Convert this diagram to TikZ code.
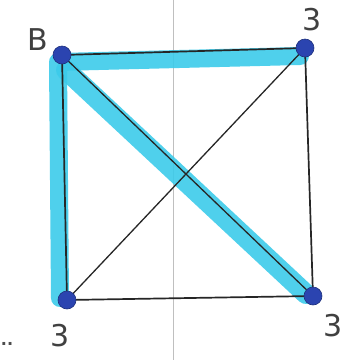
\documentclass[tikz,border=0pt]{standalone}
\usepackage{fontspec}
\setmainfont{DejaVu Sans}
\begin{document}
\begin{tikzpicture}[x=1pt,y=-1pt,
  vtx/.style={circle,fill=vblue,draw=vblue!70!black,line width=0.6pt,inner sep=0pt,minimum size=18pt},
  edge/.style={line width=1.7pt,draw=black!85},
  hl/.style={line width=18pt,draw=hcyan,line cap=round,line join=round,opacity=0.9},
  lbl/.style={font=\fontsize{30}{30}\selectfont,text=black!75}]
\definecolor{vblue}{HTML}{2B44B0}
\definecolor{hcyan}{HTML}{3CCBEA}
\useasboundingbox (0,0) rectangle (343,360);
\fill[white] (0,0) rectangle (343,360);
% faint fold line
\draw[black!25,line width=0.8pt] (173,0) -- (173,360);
% vertices as coordinates
\coordinate (tl) at (62,55);
\coordinate (tr) at (305,48);
\coordinate (bl) at (67,300);
\coordinate (br) at (313,296);
% highlight
\coordinate (h1) at (300,56);
\coordinate (h2) at (58,62);
\coordinate (h3) at (60,298);
\coordinate (h4) at (66,70);
\coordinate (h5) at (306,294);
\draw[hl] (h1) -- (h2) -- (h3);
\draw[hl,line width=20pt] (h4) -- (h5);
% edges
\draw[edge] (tl) -- (tr) -- (br) -- (bl) -- (tl);
\draw[edge,line width=1.3pt] (tl) -- (br);
\draw[edge,line width=1.3pt] (bl) -- (tr);
% vertex nodes
\node[vtx] (a) at (tl) {};
\node[vtx] (b) at (tr) {};
\node[vtx] (c) at (bl) {};
\node[vtx] (d) at (br) {};
% labels
\node[lbl] (la) at (38,40) {B};
\node[lbl] (lb) at (312,20) {3};
\node[lbl] (lc) at (60,336) {3};
\node[lbl] (ld) at (333,326) {3};
\node[font=\fontsize{16}{16}\selectfont\bfseries,text=black!70] (dots) at (7,344) {..};
\end{tikzpicture}
\end{document}
